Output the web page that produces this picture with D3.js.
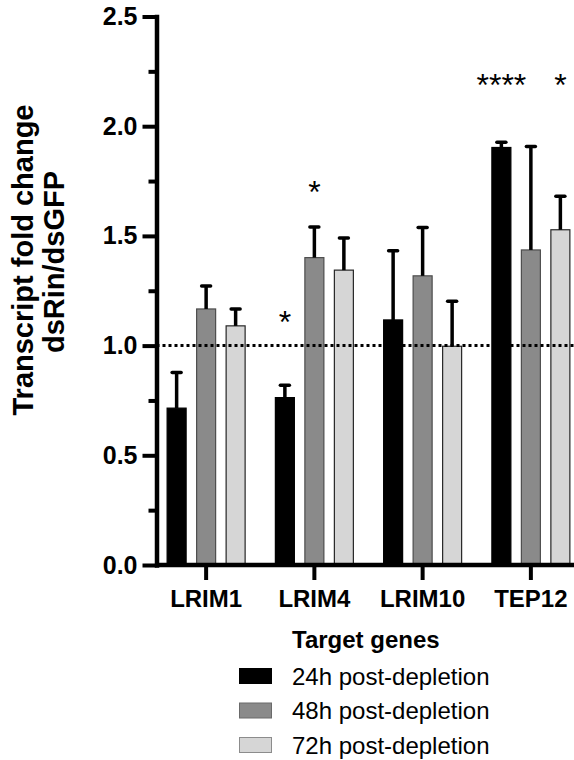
<!DOCTYPE html>
<html>
<head>
<meta charset="utf-8">
<script src="https://cdn.jsdelivr.net/npm/d3@7"></script>
<style>
    body { margin: 0; background: white; }
    svg text { font-family: "Liberation Sans", Arial, sans-serif; }
</style>
</head>
<body>
<div id="chart"></div>
<script>
// values
const genes = ["LRIM1", "LRIM4", "LRIM10", "TEP12"];
const timepoints = ["24h post-depletion", "48h post-depletion", "72h post-depletion"];
const fold_24h = [0.715, 0.763, 1.117, 1.903];
const fold_48h = [1.167, 1.401, 1.318, 1.436];
const fold_72h = [1.090, 1.344, 0.997, 1.528];
const err_24h = [0.162, 0.056, 0.315, 0.024];
const err_48h = [0.105, 0.139, 0.220, 0.471];
const err_72h = [0.077, 0.146, 0.205, 0.153];
const y_ticks = [0, 0.5, 1.0, 1.5, 2.0, 2.5];
const y_minor_ticks = [0.25, 0.75, 1.25, 1.75, 2.25];
const baseline_value = 1.0;

// significance marks
const star_genes = ["LRIM4", "LRIM4", "TEP12", "TEP12"];
const star_series = [0, 1, 0, 2];
const star_labels = ["*", "*", "****", "*"];
const star_levels = [1.14, 1.733, 2.221, 2.221];

function drawChart() {
    const div_id = "#chart";

    let width = 574;
    let height = 760;

    const fills = ["#000000", "#8a8a8a", "#d6d6d6"];
    const strokes = ["#000000", "#4d4d4d", "#262626"];
    const legend_strokes = ["#000000", "#6a6a6a", "#8c8c8c"];

    const series_vals = [fold_24h, fold_48h, fold_72h];
    const series_err = [err_24h, err_48h, err_72h];

    let rows = [];
    genes.forEach(function (g, i) {
        timepoints.forEach(function (t, j) {
            rows.push({gene: g, series: j, value: series_vals[j][i], err: series_err[j][i]});
        });
    });

    const svg = d3.select(div_id)
        .append("svg")
        .attr("width", width)
        .attr("height", height);

    const axis_x = 156.5;

    const y = d3.scaleLinear()
        .domain([0, 2.5])
        .range([565, 16.5]);

    const x = d3.scaleBand()
        .domain(genes)
        .range([152, 585]);

    const xs = d3.scaleBand()
        .domain(d3.range(timepoints.length))
        .range([-44.25, 44.25])
        .paddingInner(0.356)
        .paddingOuter(0.178);

    // bars
    svg.append("g")
        .selectAll("rect")
        .data(rows)
        .join("rect")
        .attr("x", d => x(d.gene) + x.bandwidth() / 2 + xs(d.series))
        .attr("y", d => y(d.value))
        .attr("width", xs.bandwidth())
        .attr("height", d => y(0) - y(d.value))
        .attr("fill", d => fills[d.series])
        .attr("stroke", d => strokes[d.series])
        .attr("stroke-width", 1.2);

    // error bars (upper only)
    let eb = svg.append("g")
        .selectAll("g")
        .data(rows)
        .join("g")
        .attr("transform", d => "translate(" + (x(d.gene) + x.bandwidth() / 2 + xs(d.series) + xs.bandwidth() / 2) + ",0)");
    eb.append("line")
        .attr("x1", 0).attr("x2", 0)
        .attr("y1", d => y(d.value))
        .attr("y2", d => y(d.value + d.err))
        .attr("stroke", "black")
        .attr("stroke-width", 3.5);
    eb.append("line")
        .attr("x1", -4.5).attr("x2", 4.5)
        .attr("y1", d => y(d.value + d.err))
        .attr("y2", d => y(d.value + d.err))
        .attr("stroke", "black")
        .attr("stroke-width", 3.5)
        .attr("stroke-linecap", "round");

    // dotted reference line
    svg.append("line")
        .attr("x1", axis_x)
        .attr("x2", width)
        .attr("y1", y(baseline_value))
        .attr("y2", y(baseline_value))
        .attr("stroke", "black")
        .attr("stroke-width", 3)
        .attr("stroke-dasharray", "3 3");

    // y axis, minor ticks
    svg.append("g")
        .attr("transform", "translate(" + axis_x + ",0)")
        .call(d3.axisLeft(y).tickValues(y_minor_ticks).tickSize(8).tickFormat(""))
        .call(g => g.select(".domain").remove())
        .selectAll("line").attr("stroke-width", 4);

    // y axis, major ticks
    let yAxis = svg.append("g")
        .attr("transform", "translate(" + axis_x + ",0)")
        .call(d3.axisLeft(y).tickValues(y_ticks).tickSize(14).tickSizeOuter(0).tickPadding(5).tickFormat(d3.format(".1f")));
    yAxis.select(".domain").attr("stroke-width", 4.5).attr("stroke-linecap", "square");
    yAxis.selectAll("line").attr("stroke-width", 4);
    yAxis.selectAll("text")
        .style("font-size", "25px")
        .style("font-weight", "bold")
        .attr("fill", "black");

    // x axis
    let xAxis = svg.append("g")
        .attr("transform", "translate(0," + y(0) + ")")
        .call(d3.axisBottom(x).tickSize(15).tickSizeOuter(0).tickPadding(10));
    xAxis.select(".domain").remove();
    xAxis.append("line")
        .attr("x1", axis_x)
        .attr("x2", width)
        .attr("stroke", "black")
        .attr("stroke-width", 4.5);
    xAxis.selectAll(".tick line").attr("stroke-width", 4);
    xAxis.selectAll("text")
        .style("font-size", "24px")
        .style("font-weight", "bold")
        .attr("fill", "black");

    // significance stars
    svg.append("g")
        .selectAll("text")
        .data(star_labels)
        .join("text")
        .attr("x", (d, i) => x(star_genes[i]) + x.bandwidth() / 2 + xs(star_series[i]) + xs.bandwidth() / 2)
        .attr("y", (d, i) => y(star_levels[i]))
        .attr("dy", "0.575em")
        .attr("text-anchor", "middle")
        .style("font-size", "32px")
        .text(d => d);

    // y axis title
    svg.append("text")
        .attr("transform", "translate(33,260) rotate(-90)")
        .attr("text-anchor", "middle")
        .style("font-size", "29px")
        .style("font-weight", "bold")
        .text("Transcript fold change");
    svg.append("text")
        .attr("transform", "translate(64,262) rotate(-90)")
        .attr("text-anchor", "middle")
        .style("font-size", "29px")
        .style("font-weight", "bold")
        .text("dsRin/dsGFP");

    // x axis title
    svg.append("text")
        .attr("x", 292)
        .attr("y", 648)
        .style("font-size", "24px")
        .style("font-weight", "bold")
        .text("Target genes");

    // legend
    let legend = svg.append("g")
        .selectAll("g")
        .data(timepoints)
        .join("g")
        .attr("transform", (d, i) => "translate(239," + (676 + i * 34.5) + ")");
    legend.append("rect")
        .attr("x", 0.5)
        .attr("y", -7.5)
        .attr("width", 32)
        .attr("height", 15)
        .attr("fill", (d, i) => fills[i])
        .attr("stroke", (d, i) => legend_strokes[i])
        .attr("stroke-width", 1);
    legend.append("text")
        .attr("x", 53)
        .attr("dy", "0.36em")
        .style("font-size", "24px")
        .text(d => d);
}

drawChart();
</script>
</body>
</html>
